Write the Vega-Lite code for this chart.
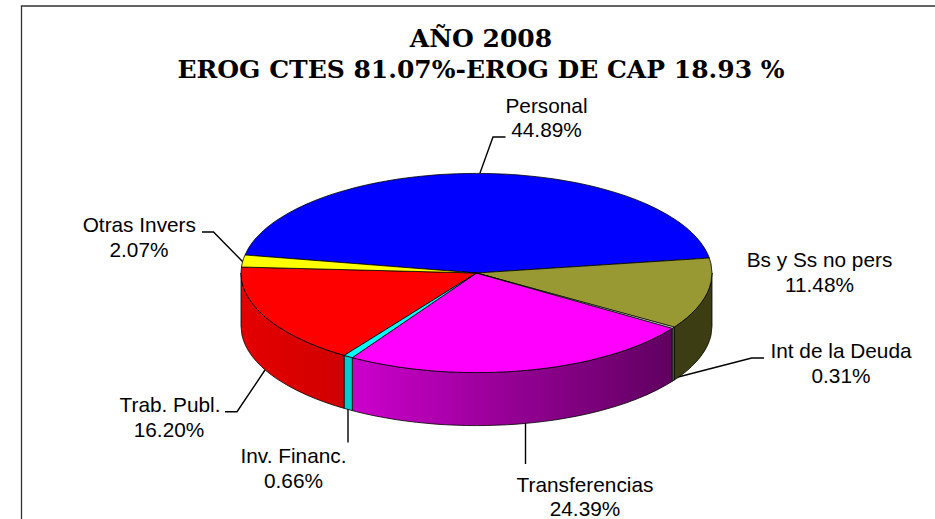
{"$schema":"https://vega.github.io/schema/vega-lite/v6.json","width":935,"height":519,"padding":0,"autosize":{"type":"none"},"background":"white","config":{"view":{"stroke":null}},
"resolve":{"scale":{"color":"independent"}},
"datasets":{
"walls":[
{"s":"Bs y Ss no pers","x":674,"y":327.2,"y2":380.2},{"s":"Bs y Ss no pers","x":676.5,"y":325.6,"y2":378.6},{"s":"Bs y Ss no pers","x":681.5,"y":322,"y2":375},{"s":"Bs y Ss no pers","x":686.5,"y":318.1,"y2":371.1},{"s":"Bs y Ss no pers","x":691.5,"y":313.6,"y2":366.6},{"s":"Bs y Ss no pers","x":696.5,"y":308.5,"y2":361.5},{"s":"Bs y Ss no pers","x":700.5,"y":303.7,"y2":356.7},{"s":"Bs y Ss no pers","x":704.5,"y":297.9,"y2":350.9},{"s":"Bs y Ss no pers","x":707.5,"y":292.4,"y2":345.4},{"s":"Bs y Ss no pers","x":709.5,"y":287.5,"y2":340.5},{"s":"Bs y Ss no pers","x":711,"y":282.2,"y2":335.2},{"s":"Bs y Ss no pers","x":712,"y":273,"y2":326},
{"s":"Int de la Deuda","x":672.3,"y":328.3,"y2":381.3},{"s":"Int de la Deuda","x":674,"y":327.2,"y2":380.2},
{"s":"Inv. Financ.","x":344.3,"y":355.4,"y2":408.4},{"s":"Inv. Financ.","x":352.3,"y":357.6,"y2":410.6}],
"wallRed":[
{"x":241,"y":273,"y2":326},{"x":242,"y":282.2,"y2":335.2},{"x":243.5,"y":287.5,"y2":340.5},{"x":245.5,"y":292.4,"y2":345.4},{"x":248.5,"y":297.9,"y2":350.9},{"x":252.5,"y":303.7,"y2":356.7},{"x":256.5,"y":308.5,"y2":361.5},{"x":261.5,"y":313.6,"y2":366.6},{"x":266.5,"y":318.1,"y2":371.1},{"x":271.5,"y":322,"y2":375},{"x":276.5,"y":325.6,"y2":378.6},{"x":286.5,"y":331.8,"y2":384.8},{"x":296.5,"y":337.2,"y2":390.2},{"x":306.5,"y":341.9,"y2":394.9},{"x":316.5,"y":346.1,"y2":399.1},{"x":326.5,"y":349.8,"y2":402.8},{"x":336.5,"y":353.1,"y2":406.1},{"x":344.3,"y":355.4,"y2":408.4}],
"wallMagenta":[
{"x":352.3,"y":357.6,"y2":410.6},{"x":356.5,"y":358.7,"y2":411.7},{"x":366.5,"y":361.1,"y2":414.1},{"x":376.5,"y":363.2,"y2":416.2},{"x":386.5,"y":365,"y2":418},{"x":396.5,"y":366.7,"y2":419.7},{"x":406.5,"y":368.1,"y2":421.1},{"x":416.5,"y":369.3,"y2":422.3},{"x":426.5,"y":370.3,"y2":423.3},{"x":436.5,"y":371.2,"y2":424.2},{"x":446.5,"y":371.8,"y2":424.8},{"x":456.5,"y":372.2,"y2":425.2},{"x":466.5,"y":372.5,"y2":425.5},{"x":476.5,"y":372.6,"y2":425.6},{"x":486.5,"y":372.5,"y2":425.5},{"x":496.5,"y":372.2,"y2":425.2},{"x":506.5,"y":371.8,"y2":424.8},{"x":516.5,"y":371.2,"y2":424.2},{"x":526.5,"y":370.3,"y2":423.3},{"x":536.5,"y":369.3,"y2":422.3},{"x":546.5,"y":368.1,"y2":421.1},{"x":556.5,"y":366.7,"y2":419.7},{"x":566.5,"y":365,"y2":418},{"x":576.5,"y":363.2,"y2":416.2},{"x":586.5,"y":361.1,"y2":414.1},{"x":596.5,"y":358.7,"y2":411.7},{"x":606.5,"y":356,"y2":409},{"x":616.5,"y":353.1,"y2":406.1},{"x":626.5,"y":349.8,"y2":402.8},{"x":636.5,"y":346.1,"y2":399.1},{"x":646.5,"y":341.9,"y2":394.9},{"x":656.5,"y":337.2,"y2":390.2},{"x":666.5,"y":331.8,"y2":384.8},{"x":672.3,"y":328.3,"y2":381.3}],
"tops":[
{"s":"Personal","x":245,"y":255,"y2":255},{"s":"Personal","x":248.5,"y":248.1,"y2":255.3},{"s":"Personal","x":252.5,"y":242.3,"y2":255.6},{"s":"Personal","x":256.5,"y":237.5,"y2":255.9},{"s":"Personal","x":261.5,"y":232.4,"y2":256.3},{"s":"Personal","x":266.5,"y":227.9,"y2":256.7},{"s":"Personal","x":271.5,"y":224,"y2":257.1},{"s":"Personal","x":276.5,"y":220.4,"y2":257.4},{"s":"Personal","x":286.5,"y":214.2,"y2":258.2},{"s":"Personal","x":296.5,"y":208.8,"y2":259},{"s":"Personal","x":306.5,"y":204.1,"y2":259.8},{"s":"Personal","x":316.5,"y":199.9,"y2":260.6},{"s":"Personal","x":326.5,"y":196.2,"y2":261.3},{"s":"Personal","x":336.5,"y":192.9,"y2":262.1},{"s":"Personal","x":346.5,"y":190,"y2":262.9},{"s":"Personal","x":356.5,"y":187.3,"y2":263.7},{"s":"Personal","x":366.5,"y":184.9,"y2":264.4},{"s":"Personal","x":376.5,"y":182.8,"y2":265.2},{"s":"Personal","x":386.5,"y":181,"y2":266},{"s":"Personal","x":396.5,"y":179.3,"y2":266.8},{"s":"Personal","x":406.5,"y":177.9,"y2":267.6},{"s":"Personal","x":416.5,"y":176.7,"y2":268.3},{"s":"Personal","x":426.5,"y":175.7,"y2":269.1},{"s":"Personal","x":436.5,"y":174.8,"y2":269.9},{"s":"Personal","x":446.5,"y":174.2,"y2":270.7},{"s":"Personal","x":456.5,"y":173.8,"y2":271.4},{"s":"Personal","x":466.5,"y":173.5,"y2":272.2},{"s":"Personal","x":476.5,"y":173.4,"y2":273},{"s":"Personal","x":486.5,"y":173.5,"y2":272.4},{"s":"Personal","x":496.5,"y":173.8,"y2":271.7},{"s":"Personal","x":506.5,"y":174.2,"y2":271.1},{"s":"Personal","x":516.5,"y":174.8,"y2":270.4},{"s":"Personal","x":526.5,"y":175.7,"y2":269.8},{"s":"Personal","x":536.5,"y":176.7,"y2":269.1},{"s":"Personal","x":546.5,"y":177.9,"y2":268.5},{"s":"Personal","x":556.5,"y":179.3,"y2":267.8},{"s":"Personal","x":566.5,"y":181,"y2":267.2},{"s":"Personal","x":576.5,"y":182.8,"y2":266.6},{"s":"Personal","x":586.5,"y":184.9,"y2":265.9},{"s":"Personal","x":596.5,"y":187.3,"y2":265.3},{"s":"Personal","x":606.5,"y":190,"y2":264.6},{"s":"Personal","x":616.5,"y":192.9,"y2":264},{"s":"Personal","x":626.5,"y":196.2,"y2":263.3},{"s":"Personal","x":636.5,"y":199.9,"y2":262.7},{"s":"Personal","x":646.5,"y":204.1,"y2":262},{"s":"Personal","x":656.5,"y":208.8,"y2":261.4},{"s":"Personal","x":666.5,"y":214.2,"y2":260.8},{"s":"Personal","x":676.5,"y":220.4,"y2":260.1},{"s":"Personal","x":681.5,"y":224,"y2":259.8},{"s":"Personal","x":686.5,"y":227.9,"y2":259.5},{"s":"Personal","x":691.5,"y":232.4,"y2":259.2},{"s":"Personal","x":696.5,"y":237.5,"y2":258.8},{"s":"Personal","x":700.5,"y":242.3,"y2":258.6},{"s":"Personal","x":704.5,"y":248.1,"y2":258.3},{"s":"Personal","x":707.5,"y":253.6,"y2":258.1},{"s":"Personal","x":709.3,"y":258,"y2":258},
{"s":"Bs y Ss no pers","x":476.5,"y":273,"y2":273},{"s":"Bs y Ss no pers","x":674,"y":260.3,"y2":327.2},{"s":"Bs y Ss no pers","x":676.5,"y":260.1,"y2":325.6},{"s":"Bs y Ss no pers","x":681.5,"y":259.8,"y2":322},{"s":"Bs y Ss no pers","x":686.5,"y":259.5,"y2":318.1},{"s":"Bs y Ss no pers","x":691.5,"y":259.2,"y2":313.6},{"s":"Bs y Ss no pers","x":696.5,"y":258.8,"y2":308.5},{"s":"Bs y Ss no pers","x":700.5,"y":258.6,"y2":303.7},{"s":"Bs y Ss no pers","x":704.5,"y":258.3,"y2":297.9},{"s":"Bs y Ss no pers","x":707.5,"y":258.1,"y2":292.4},{"s":"Bs y Ss no pers","x":709.3,"y":258,"y2":288},{"s":"Bs y Ss no pers","x":711,"y":263.8,"y2":282.2},{"s":"Bs y Ss no pers","x":712,"y":273,"y2":273},
{"s":"Transferencias","x":352.3,"y":357.6,"y2":357.6},{"s":"Transferencias","x":356.5,"y":354.7,"y2":358.7},{"s":"Transferencias","x":366.5,"y":347.9,"y2":361.1},{"s":"Transferencias","x":376.5,"y":341.1,"y2":363.2},{"s":"Transferencias","x":386.5,"y":334.3,"y2":365},{"s":"Transferencias","x":396.5,"y":327.5,"y2":366.7},{"s":"Transferencias","x":406.5,"y":320.7,"y2":368.1},{"s":"Transferencias","x":416.5,"y":313.9,"y2":369.3},{"s":"Transferencias","x":426.5,"y":307.1,"y2":370.3},{"s":"Transferencias","x":436.5,"y":300.2,"y2":371.2},{"s":"Transferencias","x":446.5,"y":293.4,"y2":371.8},{"s":"Transferencias","x":456.5,"y":286.6,"y2":372.2},{"s":"Transferencias","x":466.5,"y":279.8,"y2":372.5},{"s":"Transferencias","x":476.5,"y":273,"y2":372.6},{"s":"Transferencias","x":486.5,"y":275.8,"y2":372.5},{"s":"Transferencias","x":496.5,"y":278.6,"y2":372.2},{"s":"Transferencias","x":506.5,"y":281.5,"y2":371.8},{"s":"Transferencias","x":516.5,"y":284.3,"y2":371.2},{"s":"Transferencias","x":526.5,"y":287.1,"y2":370.3},{"s":"Transferencias","x":536.5,"y":289.9,"y2":369.3},{"s":"Transferencias","x":546.5,"y":292.8,"y2":368.1},{"s":"Transferencias","x":556.5,"y":295.6,"y2":366.7},{"s":"Transferencias","x":566.5,"y":298.4,"y2":365},{"s":"Transferencias","x":576.5,"y":301.2,"y2":363.2},{"s":"Transferencias","x":586.5,"y":304.1,"y2":361.1},{"s":"Transferencias","x":596.5,"y":306.9,"y2":358.7},{"s":"Transferencias","x":606.5,"y":309.7,"y2":356},{"s":"Transferencias","x":616.5,"y":312.5,"y2":353.1},{"s":"Transferencias","x":626.5,"y":315.4,"y2":349.8},{"s":"Transferencias","x":636.5,"y":318.2,"y2":346.1},{"s":"Transferencias","x":646.5,"y":321,"y2":341.9},{"s":"Transferencias","x":656.5,"y":323.8,"y2":337.2},{"s":"Transferencias","x":666.5,"y":326.7,"y2":331.8},{"s":"Transferencias","x":672.3,"y":328.3,"y2":328.3},
{"s":"Trab. Publ.","x":241,"y":273,"y2":273},{"s":"Trab. Publ.","x":241.5,"y":267,"y2":279.5},{"s":"Trab. Publ.","x":242,"y":267,"y2":282.2},{"s":"Trab. Publ.","x":243.5,"y":267.1,"y2":287.5},{"s":"Trab. Publ.","x":245.5,"y":267.1,"y2":292.4},{"s":"Trab. Publ.","x":248.5,"y":267.2,"y2":297.9},{"s":"Trab. Publ.","x":252.5,"y":267.3,"y2":303.7},{"s":"Trab. Publ.","x":256.5,"y":267.4,"y2":308.5},{"s":"Trab. Publ.","x":261.5,"y":267.5,"y2":313.6},{"s":"Trab. Publ.","x":266.5,"y":267.6,"y2":318.1},{"s":"Trab. Publ.","x":271.5,"y":267.8,"y2":322},{"s":"Trab. Publ.","x":276.5,"y":267.9,"y2":325.6},{"s":"Trab. Publ.","x":286.5,"y":268.2,"y2":331.8},{"s":"Trab. Publ.","x":296.5,"y":268.4,"y2":337.2},{"s":"Trab. Publ.","x":306.5,"y":268.7,"y2":341.9},{"s":"Trab. Publ.","x":316.5,"y":268.9,"y2":346.1},{"s":"Trab. Publ.","x":326.5,"y":269.2,"y2":349.8},{"s":"Trab. Publ.","x":336.5,"y":269.4,"y2":353.1},{"s":"Trab. Publ.","x":344.3,"y":269.6,"y2":355.4},{"s":"Trab. Publ.","x":476.5,"y":273,"y2":273},
{"s":"Otras Invers","x":241.5,"y":267,"y2":267},{"s":"Otras Invers","x":242,"y":263.8,"y2":267},{"s":"Otras Invers","x":243.5,"y":258.5,"y2":267.1},{"s":"Otras Invers","x":245,"y":255,"y2":267.1},{"s":"Otras Invers","x":476.5,"y":273,"y2":273},
{"s":"Inv. Financ.","x":344.3,"y":355.4,"y2":355.4},{"s":"Inv. Financ.","x":352.3,"y":350.4,"y2":357.6},{"s":"Inv. Financ.","x":476.5,"y":273,"y2":273},
{"s":"Int de la Deuda","x":476.5,"y":273,"y2":273},{"s":"Int de la Deuda","x":672.3,"y":326.5,"y2":328.3},{"s":"Int de la Deuda","x":674,"y":327.2,"y2":327.2}],
"leaders":[
{"l":"Personal","o":1,"x":480,"y":173},{"l":"Personal","o":2,"x":493,"y":137},{"l":"Personal","o":3,"x":505.5,"y":137},
{"l":"Otras","o":1,"x":243,"y":262},{"l":"Otras","o":2,"x":213.5,"y":232},{"l":"Otras","o":3,"x":202,"y":232},
{"l":"Trab","o":1,"x":265,"y":370},{"l":"Trab","o":2,"x":237,"y":411.7},{"l":"Trab","o":3,"x":225,"y":411.7},
{"l":"Inv","o":1,"x":348,"y":408},{"l":"Inv","o":2,"x":348,"y":442.5},
{"l":"Transf","o":1,"x":525.5,"y":423},{"l":"Transf","o":2,"x":525.5,"y":464},
{"l":"Int","o":1,"x":673.3,"y":378.3},{"l":"Int","o":2,"x":751.7,"y":358},{"l":"Int","o":3,"x":764,"y":358}],
"frame":[{"o":1,"x":21.5,"y":519},{"o":2,"x":21.5,"y":6},{"o":3,"x":935,"y":6}],
"labels":[
{"t":"Personal","x":546.5,"y":113},{"t":"44.89%","x":546.5,"y":137},
{"t":"Otras Invers","x":139.3,"y":232},{"t":"2.07%","x":139,"y":257},
{"t":"Bs y Ss no pers","x":819.5,"y":267},{"t":"11.48%","x":819.5,"y":292},
{"t":"Int de la Deuda","x":841,"y":358},{"t":"0.31%","x":841,"y":383},
{"t":"Trab. Publ.","x":170,"y":411.5},{"t":"16.20%","x":169,"y":436.5},
{"t":"Inv. Financ.","x":293.5,"y":462.5},{"t":"0.66%","x":293.5,"y":488},
{"t":"Transferencias","x":585,"y":492},{"t":"24.39%","x":585,"y":516}],
"titles":[{"t":"AÑO 2008","x":481,"y":46.5},{"t":"EROG CTES 81.07%-EROG DE CAP 18.93 %","x":481,"y":78}]
},
"encoding":{"x":{"field":"x","type":"quantitative","axis":null,"scale":{"domain":[0,935],"nice":false,"zero":false}},"y":{"field":"y","type":"quantitative","axis":null,"stack":null,"scale":{"domain":[519,0],"nice":false,"zero":false}}},
"layer":[
{"data":{"name":"frame"},"mark":{"type":"line","color":"#333333","strokeWidth":1.3},"encoding":{"order":{"field":"o"}}},
{"data":{"name":"leaders"},"mark":{"type":"line","color":"#000000","strokeWidth":1.4},"encoding":{"detail":{"field":"l"},"order":{"field":"o"}}},
{"data":{"name":"wallRed"},"mark":{"type":"area","orient":"vertical","stroke":"#000000","strokeWidth":0.8,"fill":{"gradient":"linear","x1":0,"x2":1,"y1":0,"y2":0,"stops":[{"offset":0,"color":"#e40000"},{"offset":1,"color":"#d00000"}]}},"encoding":{"y2":{"field":"y2"}}},
{"data":{"name":"wallMagenta"},"mark":{"type":"area","orient":"vertical","stroke":"#000000","strokeWidth":0.8,"fill":{"gradient":"linear","x1":0,"x2":1,"y1":0,"y2":0,"stops":[{"offset":0,"color":"#cc00cc"},{"offset":0.5,"color":"#940094"},{"offset":1,"color":"#600060"}]}},"encoding":{"y2":{"field":"y2"}}},
{"data":{"name":"walls"},"mark":{"type":"area","orient":"vertical","stroke":"#000000","strokeWidth":0.8},"encoding":{"y2":{"field":"y2"},"color":{"field":"s","type":"nominal","legend":null,"scale":{"domain":["Bs y Ss no pers","Int de la Deuda","Inv. Financ."],"range":["#3d3d14","#808080","#00cccc"]}}}},
{"data":{"name":"tops"},"mark":{"type":"area","orient":"vertical","stroke":"#000000","strokeWidth":0.8},"encoding":{"y2":{"field":"y2"},"color":{"field":"s","type":"nominal","legend":null,"scale":{"domain":["Personal","Bs y Ss no pers","Transferencias","Trab. Publ.","Otras Invers","Inv. Financ.","Int de la Deuda"],"range":["#0000ff","#999933","#ff00ff","#ff0000","#ffff00","#00ffff","#dddddd"]}}}},
{"data":{"name":"labels"},"mark":{"type":"text","font":"Liberation Sans","fontSize":20.8,"align":"center","baseline":"alphabetic","color":"#000000"},"encoding":{"text":{"field":"t"}}},
{"data":{"name":"titles"},"mark":{"type":"text","font":"DejaVu Serif","fontWeight":"bold","fontSize":25,"align":"center","baseline":"alphabetic","color":"#000000"},"encoding":{"text":{"field":"t"}}}
]}
